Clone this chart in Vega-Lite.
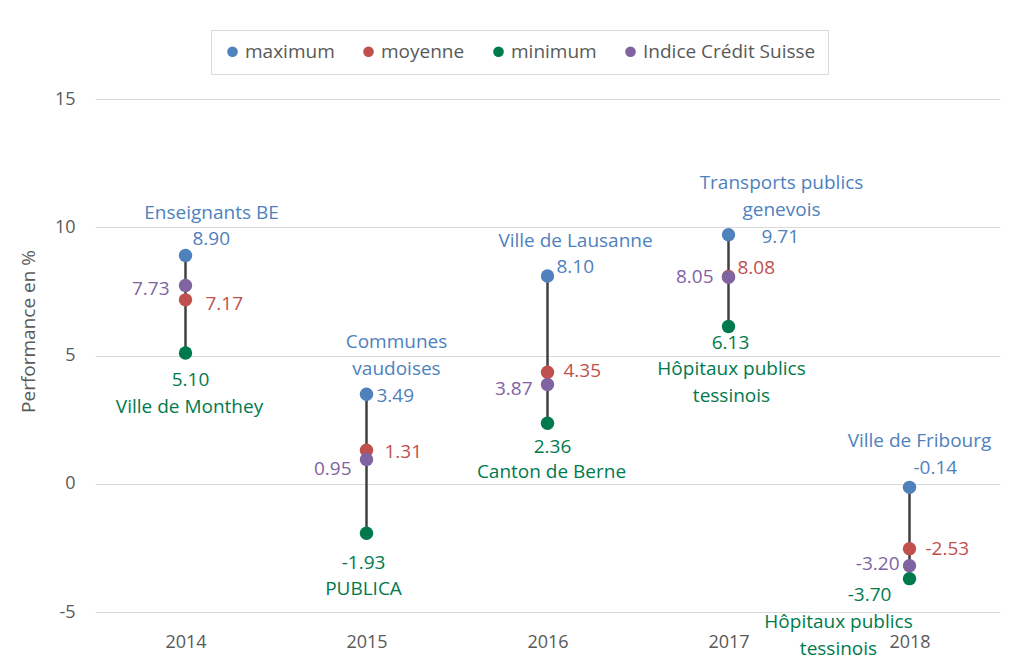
{
  "$schema": "https://vega.github.io/schema/vega-lite/v6.json",
  "width": 905,
  "height": 513,
  "autosize": {"type": "none"},
  "padding": {"left": 95, "top": 99, "right": 14, "bottom": 45},
  "background": "white",
  "config": {
    "view": {"stroke": null},
    "locale": {"number": {"decimal": ".", "thousands": ",", "grouping": [3], "currency": ["", ""], "minus": "-"}},
    "text": {"font": "Open Sans", "fontSize": 19, "baseline": "middle", "lineBreak": "\n", "lineHeight": 27}
  },
  "data": {
    "values": [
      {"year": "2014", "series": "maximum", "value": 8.90, "name": "Enseignants BE"},
      {"year": "2015", "series": "maximum", "value": 3.49, "name": "Communes\nvaudoises"},
      {"year": "2016", "series": "maximum", "value": 8.10, "name": "Ville de Lausanne"},
      {"year": "2017", "series": "maximum", "value": 9.71, "name": "Transports publics\ngenevois"},
      {"year": "2018", "series": "maximum", "value": -0.14, "name": "Ville de Fribourg"},
      {"year": "2014", "series": "moyenne", "value": 7.17, "name": ""},
      {"year": "2015", "series": "moyenne", "value": 1.31, "name": ""},
      {"year": "2016", "series": "moyenne", "value": 4.35, "name": ""},
      {"year": "2017", "series": "moyenne", "value": 8.08, "name": ""},
      {"year": "2018", "series": "moyenne", "value": -2.53, "name": ""},
      {"year": "2014", "series": "minimum", "value": 5.10, "name": "Ville de Monthey"},
      {"year": "2015", "series": "minimum", "value": -1.93, "name": "PUBLICA"},
      {"year": "2016", "series": "minimum", "value": 2.36, "name": "Canton de Berne"},
      {"year": "2017", "series": "minimum", "value": 6.13, "name": "Hôpitaux publics\ntessinois"},
      {"year": "2018", "series": "minimum", "value": -3.70, "name": "Hôpitaux publics\ntessinois"},
      {"year": "2014", "series": "Indice Crédit Suisse", "value": 7.73, "name": ""},
      {"year": "2015", "series": "Indice Crédit Suisse", "value": 0.95, "name": ""},
      {"year": "2016", "series": "Indice Crédit Suisse", "value": 3.87, "name": ""},
      {"year": "2017", "series": "Indice Crédit Suisse", "value": 8.05, "name": ""},
      {"year": "2018", "series": "Indice Crédit Suisse", "value": -3.20, "name": ""}
    ]
  },
  "encoding": {
    "x": {
      "field": "year", "type": "nominal", "sort": ["2014", "2015", "2016", "2017", "2018"],
      "scale": {"type": "point", "padding": 0.5},
      "axis": {"title": null, "domain": false, "ticks": false, "grid": false, "labelAngle": 0, "labelFont": "Open Sans", "labelFontSize": 18, "labelColor": "#595959", "labelPadding": 21}
    },
    "y": {
      "field": "value", "type": "quantitative",
      "scale": {"domain": [-5, 15], "nice": false, "zero": false},
      "axis": {"values": [-5, 0, 5, 10, 15], "grid": true, "gridColor": "#d9d9d9", "gridWidth": 1, "domain": false, "ticks": false, "labelFont": "Open Sans", "labelFontSize": 18, "labelColor": "#595959", "labelPadding": 20, "title": "Performance en %", "titleFont": "Open Sans", "titleFontSize": 19, "titleFontWeight": "normal", "titleColor": "#595959", "titlePadding": 16, "titleY": 232}
    },
    "color": {
      "field": "series", "type": "nominal",
      "scale": {"domain": ["maximum", "moyenne", "minimum", "Indice Crédit Suisse"], "range": ["#4F81BD", "#C0504D", "#007A4D", "#8064A2"]},
      "legend": null
    }
  },
  "layer": [
    {
      "mark": {"type": "rule", "color": "#404040", "strokeWidth": 2.5},
      "encoding": {
        "y": {"aggregate": "min", "field": "value", "type": "quantitative"},
        "y2": {"aggregate": "max", "field": "value"},
        "color": {"value": "#404040"}
      }
    },
    {
      "mark": {"type": "point", "filled": true, "size": 180, "opacity": 1},
      "encoding": {
        "color": {
          "field": "series", "type": "nominal",
          "legend": {"title": null, "orient": "none", "legendX": 116, "legendY": -69, "direction": "horizontal", "padding": 12, "strokeColor": "#d9d9d9", "fillColor": "white", "labelFont": "Open Sans", "labelFontSize": 19, "labelColor": "#595959", "symbolType": "circle", "symbolSize": 113, "symbolStrokeWidth": 0, "columnPadding": 24, "labelOffset": 3, "labelLimit": 300}
        }
      }
    },
    {"transform": [{"filter": "datum.year=='2014' && datum.series=='maximum'"}], "mark": {"type": "text", "align": "left", "dx": 7, "dy": -16}, "encoding": {"text": {"field": "value", "type": "quantitative", "format": ".2f"}}},
    {"transform": [{"filter": "datum.year=='2014' && datum.series=='moyenne'"}], "mark": {"type": "text", "align": "left", "dx": 20, "dy": 4}, "encoding": {"text": {"field": "value", "type": "quantitative", "format": ".2f"}}},
    {"transform": [{"filter": "datum.year=='2014' && datum.series=='minimum'"}], "mark": {"type": "text", "align": "center", "dx": 5, "dy": 27}, "encoding": {"text": {"field": "value", "type": "quantitative", "format": ".2f"}}},
    {"transform": [{"filter": "datum.year=='2014' && datum.series=='Indice Crédit Suisse'"}], "mark": {"type": "text", "align": "right", "dx": -16, "dy": 4}, "encoding": {"text": {"field": "value", "type": "quantitative", "format": ".2f"}}},
    {"transform": [{"filter": "datum.year=='2015' && datum.series=='maximum'"}], "mark": {"type": "text", "align": "left", "dx": 10, "dy": 2}, "encoding": {"text": {"field": "value", "type": "quantitative", "format": ".2f"}}},
    {"transform": [{"filter": "datum.year=='2015' && datum.series=='moyenne'"}], "mark": {"type": "text", "align": "left", "dx": 18, "dy": 2}, "encoding": {"text": {"field": "value", "type": "quantitative", "format": ".2f"}}},
    {"transform": [{"filter": "datum.year=='2015' && datum.series=='minimum'"}], "mark": {"type": "text", "align": "center", "dx": -3, "dy": 30}, "encoding": {"text": {"field": "value", "type": "quantitative", "format": ".2f"}}},
    {"transform": [{"filter": "datum.year=='2015' && datum.series=='Indice Crédit Suisse'"}], "mark": {"type": "text", "align": "right", "dx": -15, "dy": 10}, "encoding": {"text": {"field": "value", "type": "quantitative", "format": ".2f"}}},
    {"transform": [{"filter": "datum.year=='2016' && datum.series=='maximum'"}], "mark": {"type": "text", "align": "left", "dx": 9, "dy": -9}, "encoding": {"text": {"field": "value", "type": "quantitative", "format": ".2f"}}},
    {"transform": [{"filter": "datum.year=='2016' && datum.series=='moyenne'"}], "mark": {"type": "text", "align": "left", "dx": 16, "dy": -1}, "encoding": {"text": {"field": "value", "type": "quantitative", "format": ".2f"}}},
    {"transform": [{"filter": "datum.year=='2016' && datum.series=='minimum'"}], "mark": {"type": "text", "align": "center", "dx": 5, "dy": 24}, "encoding": {"text": {"field": "value", "type": "quantitative", "format": ".2f"}}},
    {"transform": [{"filter": "datum.year=='2016' && datum.series=='Indice Crédit Suisse'"}], "mark": {"type": "text", "align": "right", "dx": -15, "dy": 5}, "encoding": {"text": {"field": "value", "type": "quantitative", "format": ".2f"}}},
    {"transform": [{"filter": "datum.year=='2017' && datum.series=='maximum'"}], "mark": {"type": "text", "align": "left", "dx": 33, "dy": 2}, "encoding": {"text": {"field": "value", "type": "quantitative", "format": ".2f"}}},
    {"transform": [{"filter": "datum.year=='2017' && datum.series=='moyenne'"}], "mark": {"type": "text", "align": "left", "dx": 9, "dy": -8}, "encoding": {"text": {"field": "value", "type": "quantitative", "format": ".2f"}}},
    {"transform": [{"filter": "datum.year=='2017' && datum.series=='minimum'"}], "mark": {"type": "text", "align": "center", "dx": 2, "dy": 16}, "encoding": {"text": {"field": "value", "type": "quantitative", "format": ".2f"}}},
    {"transform": [{"filter": "datum.year=='2017' && datum.series=='Indice Crédit Suisse'"}], "mark": {"type": "text", "align": "right", "dx": -15, "dy": 0}, "encoding": {"text": {"field": "value", "type": "quantitative", "format": ".2f"}}},
    {"transform": [{"filter": "datum.year=='2018' && datum.series=='maximum'"}], "mark": {"type": "text", "align": "left", "dx": 4, "dy": -19}, "encoding": {"text": {"field": "value", "type": "quantitative", "format": ".2f"}}},
    {"transform": [{"filter": "datum.year=='2018' && datum.series=='moyenne'"}], "mark": {"type": "text", "align": "left", "dx": 16, "dy": 0}, "encoding": {"text": {"field": "value", "type": "quantitative", "format": ".2f"}}},
    {"transform": [{"filter": "datum.year=='2018' && datum.series=='minimum'"}], "mark": {"type": "text", "align": "center", "dx": -40, "dy": 16}, "encoding": {"text": {"field": "value", "type": "quantitative", "format": ".2f"}}},
    {"transform": [{"filter": "datum.year=='2018' && datum.series=='Indice Crédit Suisse'"}], "mark": {"type": "text", "align": "right", "dx": -10, "dy": -2}, "encoding": {"text": {"field": "value", "type": "quantitative", "format": ".2f"}}},
    {"transform": [{"filter": "datum.year=='2014' && datum.series=='maximum'"}], "mark": {"type": "text", "align": "center", "dx": 26, "dy": -42}, "encoding": {"text": {"field": "name"}}},
    {"transform": [{"filter": "datum.year=='2014' && datum.series=='minimum'"}], "mark": {"type": "text", "align": "center", "dx": 4, "dy": 54}, "encoding": {"text": {"field": "name"}}},
    {"transform": [{"filter": "datum.year=='2015' && datum.series=='maximum'"}], "mark": {"type": "text", "align": "center", "dx": 30, "dy": -52}, "encoding": {"text": {"field": "name"}}},
    {"transform": [{"filter": "datum.year=='2015' && datum.series=='minimum'"}], "mark": {"type": "text", "align": "center", "dx": -3, "dy": 56}, "encoding": {"text": {"field": "name"}}},
    {"transform": [{"filter": "datum.year=='2016' && datum.series=='maximum'"}], "mark": {"type": "text", "align": "center", "dx": 28, "dy": -35}, "encoding": {"text": {"field": "name"}}},
    {"transform": [{"filter": "datum.year=='2016' && datum.series=='minimum'"}], "mark": {"type": "text", "align": "center", "dx": 4, "dy": 49}, "encoding": {"text": {"field": "name"}}},
    {"transform": [{"filter": "datum.year=='2017' && datum.series=='maximum'"}], "mark": {"type": "text", "align": "center", "dx": 53, "dy": -52}, "encoding": {"text": {"field": "name"}}},
    {"transform": [{"filter": "datum.year=='2017' && datum.series=='minimum'"}], "mark": {"type": "text", "align": "center", "dx": 3, "dy": 42}, "encoding": {"text": {"field": "name"}}},
    {"transform": [{"filter": "datum.year=='2018' && datum.series=='maximum'"}], "mark": {"type": "text", "align": "center", "dx": 10, "dy": -46}, "encoding": {"text": {"field": "name"}}},
    {"transform": [{"filter": "datum.year=='2018' && datum.series=='minimum'"}], "mark": {"type": "text", "align": "center", "dx": -71, "dy": 43}, "encoding": {"text": {"field": "name"}}}
  ]
}
